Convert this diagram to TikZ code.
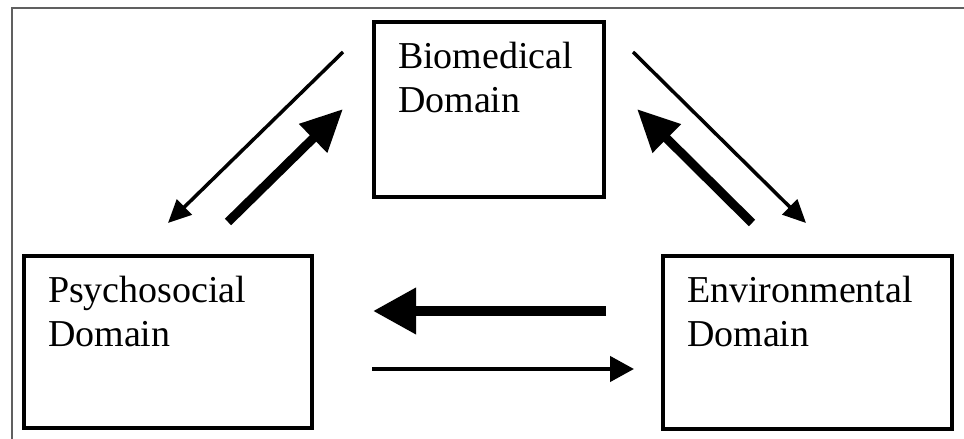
\documentclass[tikz,border=0pt]{standalone}
\usepackage{fontspec}
\setmainfont{Liberation Serif}
\usetikzlibrary{arrows.meta}
\definecolor{frame}{HTML}{606060}
\tikzset{
  field/.style={draw, line width=4pt, anchor=north west, inner xsep=24pt,
    inner ysep=20pt, font=\fontsize{38}{44}\selectfont},
  thindiag/.style={line width=3.5pt, -{Triangle[length=23pt,width=21pt]}},
  thickdiag/.style={line width=9pt, -{Triangle[length=42pt,width=38pt]}},
  thinflat/.style={line width=4.5pt, -{Triangle[length=24pt,width=25pt]}},
  thickflat/.style={line width=10pt, -{Triangle[length=43pt,width=44pt]}}
}
\newcommand{\domainbox}[3]{\parbox[t][#2][t]{#1}{#3}}

\begin{document}
\begin{tikzpicture}[x=1pt, y=1pt]
\useasboundingbox (0,0) rectangle (964,439);
% outer frame, only top and left are visible
\coordinate (F1) at (12,0);
\coordinate (F2) at (12,431);
\coordinate (F3) at (964,431);
\draw[frame, line width=1.5pt] (F1) -- (F2) -- (F3);

% the three domains
\node[field] (bio) at (372,419) {\domainbox{182pt}{135pt}{Biomedical\\Domain}};
\node[field] (psy) at (22,185) {\domainbox{240pt}{132pt}{Psychosocial\\Domain}};
\node[field] (env) at (661,185) {\domainbox{241pt}{133pt}{Environmental\\Domain}};

% end points of the arrows
\coordinate (bp1) at (343,387);
\coordinate (bp2) at (168,216);
\coordinate (pb1) at (228,217);
\coordinate (pb2) at (343,330);
\coordinate (be1) at (633,387);
\coordinate (be2) at (806,216);
\coordinate (eb1) at (752,216);
\coordinate (eb2) at (637,330);
\coordinate (ep1) at (606,128);
\coordinate (ep2) at (373,128);
\coordinate (pe1) at (372,70);
\coordinate (pe2) at (634,70);

\draw[thindiag] (bp1) -- (bp2);
\draw[thickdiag] (pb1) -- (pb2);
\draw[thindiag] (be1) -- (be2);
\draw[thickdiag] (eb1) -- (eb2);
\draw[thickflat] (ep1) -- (ep2);
\draw[thinflat] (pe1) -- (pe2);

\end{tikzpicture}
\end{document}
